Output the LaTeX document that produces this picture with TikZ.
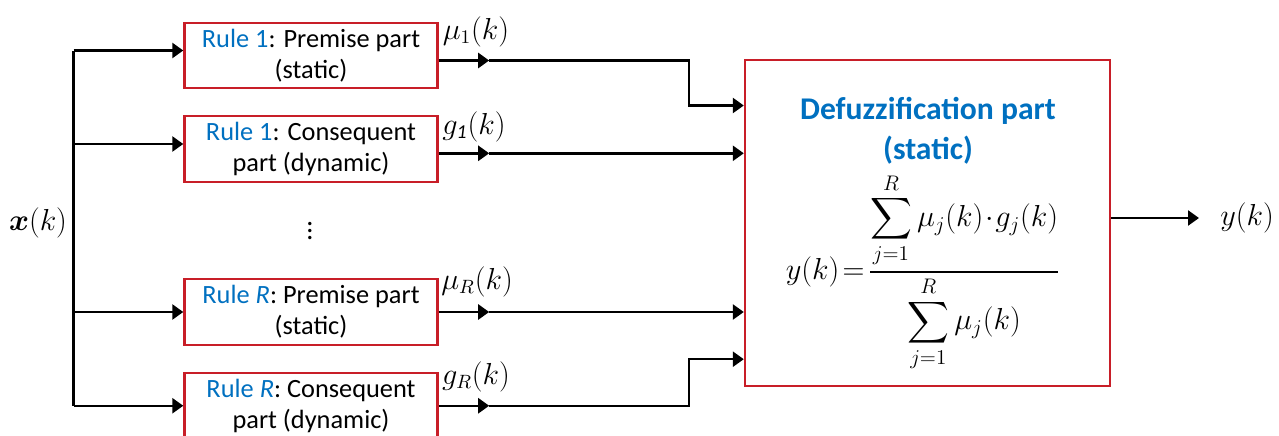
\documentclass[tikz,border=0pt]{standalone}
\usepackage{amsmath}
\usepackage{amssymb}
\usepackage{fontspec}
\setmainfont{Carlito}
\usetikzlibrary{arrows.meta,calc,positioning}
\definecolor{RuleBlue}{RGB}{0,112,192}
\definecolor{BoxRed}{RGB}{200,30,40}
\tikzset{
  rulebox/.style={draw=BoxRed, line width=1.4pt, minimum width=5.06cm, minimum height=1.31cm, align=center, inner sep=0pt, font=\fontsize{15}{17.6}\selectfont},
  wire/.style={line width=1.4pt},
  sig/.style={wire, -{Triangle[length=0.22cm, width=0.3cm]}},
  siglabel/.style={font=\fontsize{16}{19}\selectfont, inner sep=0pt}
}

\begin{document}
\begin{tikzpicture}[x=0.02cm, y=-0.02cm]
    \useasboundingbox (0,0) rectangle (1279,436);

    % rule blocks
    \node[rulebox] (r1p) at (311,55.5) {\textcolor{RuleBlue}{Rule 1}: Premise part\\(static)};
    \node[rulebox] (r1c) at (311,149) {\textcolor{RuleBlue}{Rule 1}: Consequent\\part (dynamic)};
    \node[siglabel] (vdots) at (310,226) {$\vdots$};
    \node[rulebox] (rRp) at (311,312) {\textcolor{RuleBlue}{Rule \textit{R}}: Premise part\\(static)};
    \node[rulebox] (rRc) at (311,405.75) {\textcolor{RuleBlue}{Rule \textit{R}}: Consequent\\part (dynamic)};

    % defuzzification block
    \node[draw=BoxRed, line width=1.4pt, minimum width=7.3cm, minimum height=6.52cm] (dfz) at (927.5,223) {};
    \node[font=\fontsize{18}{22.5}\selectfont\bfseries, text=RuleBlue, align=center, inner sep=0pt] (dfztitle) at (928,131) {Defuzzification part\\(static)};
    \node[font=\fontsize{16.5}{19}\selectfont, inner sep=0pt] (dfzeq) at (923,272) {$y(k)\!=\!\dfrac{\displaystyle\sum_{j=1}^{R}\mu_j(k)\!\cdot\! g_j(k)}{\displaystyle\sum_{j=1}^{R}\mu_j(k)}$};

    % input bus
    \node[siglabel] (xin) at (38,223) {$\boldsymbol{x}(k)$};
    \coordinate (bus) at (73.5,223);
    \coordinate (in1) at ([yshift=0.1cm]r1p.west);
    \coordinate (in2) at ([yshift=0.1cm]r1c.west);
    \coordinate (in3) at (rRp.west);
    \coordinate (in4) at (rRc.west);
    \draw[wire] (in1 -| bus) -- (in4 -| bus);
    \foreach \i in {1,...,4}
        \draw[sig] (in\i -| bus) -- (in\i);

    % rule outputs
    \coordinate (out1) at ([yshift=-0.1cm]r1p.east);
    \coordinate (out2) at ([yshift=-0.086cm]r1c.east);
    \coordinate (out3) at (rRp.east);
    \coordinate (out4) at (rRc.east);
    \foreach \i in {1,...,4} {
        \coordinate (tip\i) at ([xshift=1.01cm]out\i);
        \draw[sig] (out\i) -- (tip\i);
    }
    \node[siglabel] (mu1) at (476,31.7) {$\mu_1(k)$};
    \node[siglabel] (g1) at (474,126.7) {$g_{\mathit{1}}(k)$};
    \node[siglabel] (muR) at (477,281.7) {$\mu_R(k)$};
    \node[siglabel] (gR) at (476,376.7) {$g_R(k)$};

    \coordinate (d1) at ($(dfz.north west)+(0,46.7)$);
    \coordinate (d4) at ($(dfz.south west)+(0,-28)$);
    \draw[sig] (tip1) -| ($(d1)+(-55,0)$) -- (d1);
    \draw[sig] (tip2) -- (tip2 -| dfz.west);
    \draw[sig] (tip3) -- (tip3 -| dfz.west);
    \draw[sig] (tip4) -| ($(d4)+(-55,0)$) -- (d4);

    % output
    \node[siglabel, anchor=west] (yout) at (1220,218) {$y(k)$};
    \draw[sig, shorten >=0.42cm] (dfz.east |- yout) -- (yout.west);
\end{tikzpicture}
\end{document}
